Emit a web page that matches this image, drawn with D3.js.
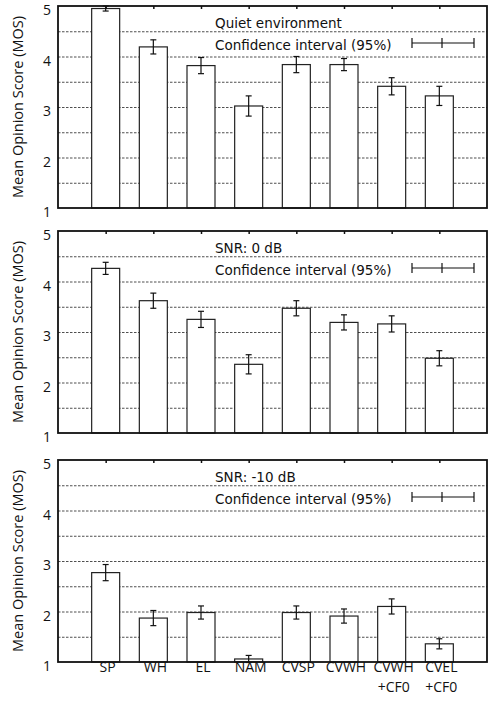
<!DOCTYPE html>
<html>
<head>
<meta charset="utf-8">
<title>MOS bar chart</title>
<script src="https://d3js.org/d3.v7.min.js"></script>
<style>
  body { margin: 0; background: #fff; }
  text { font-family: "Open Sans", "Noto Sans", sans-serif; fill: #111; }
</style>
</head>
<body>
<div id="chart"></div>
<script>
// data
const categories = ["SP", "WH", "EL", "NAM", "CVSP", "CVWH", "CVWH", "CVEL"];
const subLabels = ["", "", "", "", "", "", "+CF0", "+CF0"];
const panelTitles = ["Quiet environment", "SNR: 0 dB", "SNR: -10 dB"];
const quietMean = [4.95, 4.19, 3.82, 3.02, 3.84, 3.84, 3.41, 3.22];
const quietCI   = [0.05, 0.14, 0.16, 0.20, 0.16, 0.12, 0.17, 0.19];
const snr0Mean  = [4.26, 3.62, 3.25, 2.36, 3.47, 3.19, 3.16, 2.48];
const snr0CI    = [0.12, 0.15, 0.16, 0.19, 0.15, 0.15, 0.16, 0.15];
const snr10Mean = [2.77, 1.87, 1.98, 1.06, 1.98, 1.91, 2.10, 1.36];
const snr10CI   = [0.16, 0.15, 0.13, 0.07, 0.13, 0.14, 0.15, 0.10];
const yTicks = [1, 2, 3, 4, 5];
const gridTicks = [1.5, 2, 2.5, 3, 3.5, 4, 4.5];
const legendText = "Confidence interval (95%)";

const panels = [
    {title: panelTitles[0], mean: quietMean, ci: quietCI, top: 6},
    {title: panelTitles[1], mean: snr0Mean, ci: snr0CI, top: 231},
    {title: panelTitles[2], mean: snr10Mean, ci: snr10CI, top: 460}
];

const W = 489, H = 702;
const left = 58, right = 487, ph = 202;
const barW = 28;
const legendFont = "'DejaVu Sans', sans-serif";

const svg = d3.select("#chart").append("svg")
    .attr("width", W)
    .attr("height", H);

const x = d3.scaleLinear()
    .domain([0, categories.length + 1])
    .range([left, right]);

panels.forEach(function(p, pi) {
    const y = d3.scaleLinear()
        .domain([1, 5])
        .range([p.top + ph, p.top]);

    const g = svg.append("g");

    // dashed grid
    g.append("g")
        .attr("transform", "translate(" + left + ",0)")
        .call(d3.axisLeft(y).tickValues(gridTicks).tickSize(-(right - left)).tickFormat(""))
        .call(function(a) {
            a.select(".domain").remove();
            a.selectAll("line")
                .attr("stroke", "#222")
                .attr("stroke-width", 0.8)
                .attr("stroke-dasharray", "2.5,1.5");
        });

    // legend text
    g.append("text")
        .attr("x", 215)
        .attr("y", p.top + 16.5)
        .attr("dy", "0.38em")
        .attr("font-size", "13.5px")
        .style("font-family", legendFont)
        .text(p.title);
    g.append("text")
        .attr("x", 215)
        .attr("y", p.top + 38.5)
        .attr("dy", "0.38em")
        .attr("font-size", "13.5px")
        .style("font-family", legendFont)
        .text(legendText);
    // legend errorbar symbol
    const ly = p.top + 37;
    g.append("line")
        .attr("x1", 412).attr("x2", 474).attr("y1", ly).attr("y2", ly)
        .attr("stroke", "#111").attr("stroke-width", 1.2);
    [412, 442, 474].forEach(function(lx) {
        g.append("line")
            .attr("x1", lx).attr("x2", lx).attr("y1", ly - 5).attr("y2", ly + 5)
            .attr("stroke", "#111").attr("stroke-width", 1.2);
    });

    // bars
    g.selectAll("rect.bar")
        .data(p.mean)
        .enter()
        .append("rect")
        .attr("class", "bar")
        .attr("x", function(d, i) { return x(i + 1) - barW / 2; })
        .attr("y", function(d) { return y(d); })
        .attr("width", barW)
        .attr("height", function(d) { return y(1) - y(d); })
        .attr("fill", "#fff")
        .attr("stroke", "#222")
        .attr("stroke-width", 1.2);

    // error bars
    const eb = g.selectAll("g.err")
        .data(p.mean)
        .enter()
        .append("g")
        .attr("class", "err");
    eb.append("line")
        .attr("x1", function(d, i) { return x(i + 1); })
        .attr("x2", function(d, i) { return x(i + 1); })
        .attr("y1", function(d, i) { return y(Math.min(5, d + p.ci[i])); })
        .attr("y2", function(d, i) { return y(d - p.ci[i]); })
        .attr("stroke", "#111").attr("stroke-width", 1.2);
    [1, -1].forEach(function(s) {
        eb.append("line")
            .attr("x1", function(d, i) { return x(i + 1) - 3; })
            .attr("x2", function(d, i) { return x(i + 1) + 3; })
            .attr("y1", function(d, i) { return y(Math.min(5, d + s * p.ci[i])); })
            .attr("y2", function(d, i) { return y(Math.min(5, d + s * p.ci[i])); })
            .attr("stroke", "#111").attr("stroke-width", 1.2);
    });

    // top ticks at categories
    g.append("g")
        .attr("transform", "translate(0," + p.top + ")")
        .call(d3.axisTop(x).tickValues(d3.range(1, categories.length + 1)).tickSize(-3).tickFormat(""))
        .call(function(a) {
            a.select(".domain").remove();
            a.selectAll("line").attr("stroke", "#111").attr("stroke-width", 1.5);
        });

    // frame
    g.append("rect")
        .attr("x", left)
        .attr("y", p.top)
        .attr("width", right - left)
        .attr("height", ph)
        .attr("fill", "none")
        .attr("stroke", "#111")
        .attr("stroke-width", 1.8);

    // y axis labels
    g.append("g")
        .attr("transform", "translate(" + left + ",0)")
        .call(d3.axisLeft(y).tickValues(yTicks).tickSize(0).tickPadding(7).tickFormat(d3.format("d")))
        .call(function(a) {
            a.select(".domain").remove();
            a.selectAll("text")
                .attr("font-size", "14px")
                .attr("dy", "8.5px")
                .style("font-family", "'Open Sans', sans-serif")
                .attr("fill", "#111");
        });

    g.append("text")
        .attr("transform", "rotate(-90)")
        .attr("x", -(p.top + ph / 2))
        .attr("y", 18)
        .attr("dy", "0.35em")
        .attr("text-anchor", "middle")
        .attr("font-size", "14.5px")
        .text("Mean Opinion Score (MOS)");

    // category labels under the last panel
    if (pi === panels.length - 1) {
        g.selectAll("text.cat")
            .data(categories)
            .enter()
            .append("text")
            .attr("class", "cat")
            .attr("text-anchor", "middle")
            .attr("font-size", "14px")
            .attr("x", function(d, i) { return x(i + 1) + 2; })
            .attr("y", p.top + ph + 10)
            .text(function(d) { return d; });
        g.selectAll("text.sub")
            .data(subLabels)
            .enter()
            .append("text")
            .attr("class", "sub")
            .attr("text-anchor", "middle")
            .attr("font-size", "14px")
            .attr("x", function(d, i) { return x(i + 1) + 2; })
            .attr("y", p.top + ph + 29.5)
            .text(function(d) { return d; });
    }
});
</script>
</body>
</html>
